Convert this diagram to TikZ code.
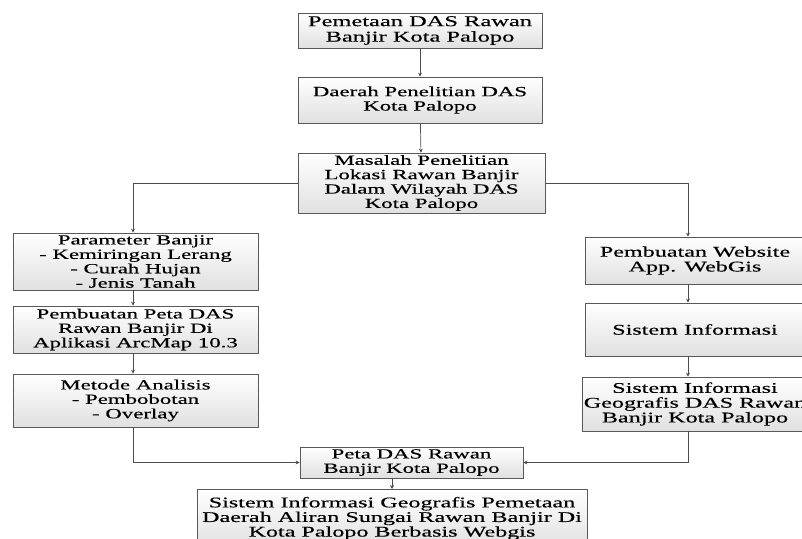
\documentclass[tikz,border=0pt]{standalone}
\usepackage{fontspec}
\setmainfont{Liberation Serif}[FakeStretch=1.63,FakeBold=0.35]
\usetikzlibrary{arrows.meta,shadows}
\begin{document}
\begin{tikzpicture}[x=1pt,y=-1pt,
  box/.style={draw=black!65, line width=0.7pt, top color=white, bottom color=black!12,
    drop shadow={shadow xshift=1.2pt, shadow yshift=-1.2pt, opacity=0.35},
    align=center, inner sep=1pt, font=\fontsize{14}{14.4}\selectfont},
  bigtext/.style={font=\fontsize{14.8}{14.8}\selectfont},
  arr/.style={draw=black!70, line width=0.7pt, -{Stealth[length=4pt,width=4pt]}}]
\useasboundingbox (0,0) rectangle (802,538);
\clip (0,0) rectangle (802,538);
\coordinate (lc) at (133,0);
\coordinate (rc) at (688,0);
\coordinate (mc) at (392,0);
\node[box, minimum width=244pt, minimum height=35pt, font=\fontsize{15}{15.5}\selectfont] (b1) at (420,30.5) {Pemetaan DAS Rawan\\Banjir Kota Palopo};
\node[box, minimum width=244pt, minimum height=46pt] (b2) at (420,100) {Daerah Penelitian DAS\\Kota Palopo};
\node[box, minimum width=247pt, minimum height=60pt] (b3) at (421.5,183) {Masalah Penelitian\\Lokasi Rawan Banjir\\Dalam Wilayah DAS\\Kota Palopo};
\node[box, minimum width=245pt, minimum height=57pt] (p1) at (135.5,261.5) {Parameter Banjir\\- Kemiringan Lerang\\- Curah Hujan\\- Jenis Tanah};
\node[box, minimum width=245pt, minimum height=47pt] (p2) at (135.5,329.5) {Pembuatan Peta DAS\\Rawan Banjir Di\\Aplikasi ArcMap 10.3};
\node[box, minimum width=245pt, minimum height=53pt] (p3) at (135.5,400.5) {Metode Analisis\\- Pembobotan\\- Overlay};
\node[box, bigtext, minimum width=220pt, minimum height=47pt] (r1) at (695,260.5) {Pembuatan Website\\App. WebGis};
\node[box, bigtext, minimum width=220pt, minimum height=53pt] (r2) at (695,329.5) {Sistem Informasi};
\node[box, bigtext, minimum width=220pt, minimum height=54pt] (r3) at (695,404) {Sistem Informasi\\Geografis DAS Rawan\\Banjir Kota Palopo};
\node[box, minimum width=223pt, minimum height=31pt] (pt) at (411.5,462.5) {Peta DAS Rawan\\Banjir Kota Palopo};
\node[box, minimum width=390pt, minimum height=58pt, anchor=north, font=\fontsize{14.8}{14.6}\selectfont] (fn) at (392,489) {Sistem Informasi Geografis Pemetaan\\Daerah Aliran Sungai Rawan Banjir Di\\Kota Palopo Berbasis Webgis};
\draw[arr] (b1) -- (b2);
\draw[arr] (b2) -- (b3);
\draw[arr] (b3.west) -| (p1.north -| lc);
\draw[arr] (b3.east) -| (r1.north -| rc);
\draw[arr] (p1.south -| lc) -- (p2.north -| lc);
\draw[arr] (p2.south -| lc) -- (p3.north -| lc);
\draw[arr] (r1.south -| rc) -- (r2.north -| rc);
\draw[arr] (r2.south -| rc) -- (r3.north -| rc);
\draw[arr] (p3.south -| lc) |- (pt.west);
\draw[arr] (r3.south -| rc) |- (pt.east);
\draw[arr] (pt.south -| mc) -- (fn.north -| mc);
\end{tikzpicture}
\end{document}
